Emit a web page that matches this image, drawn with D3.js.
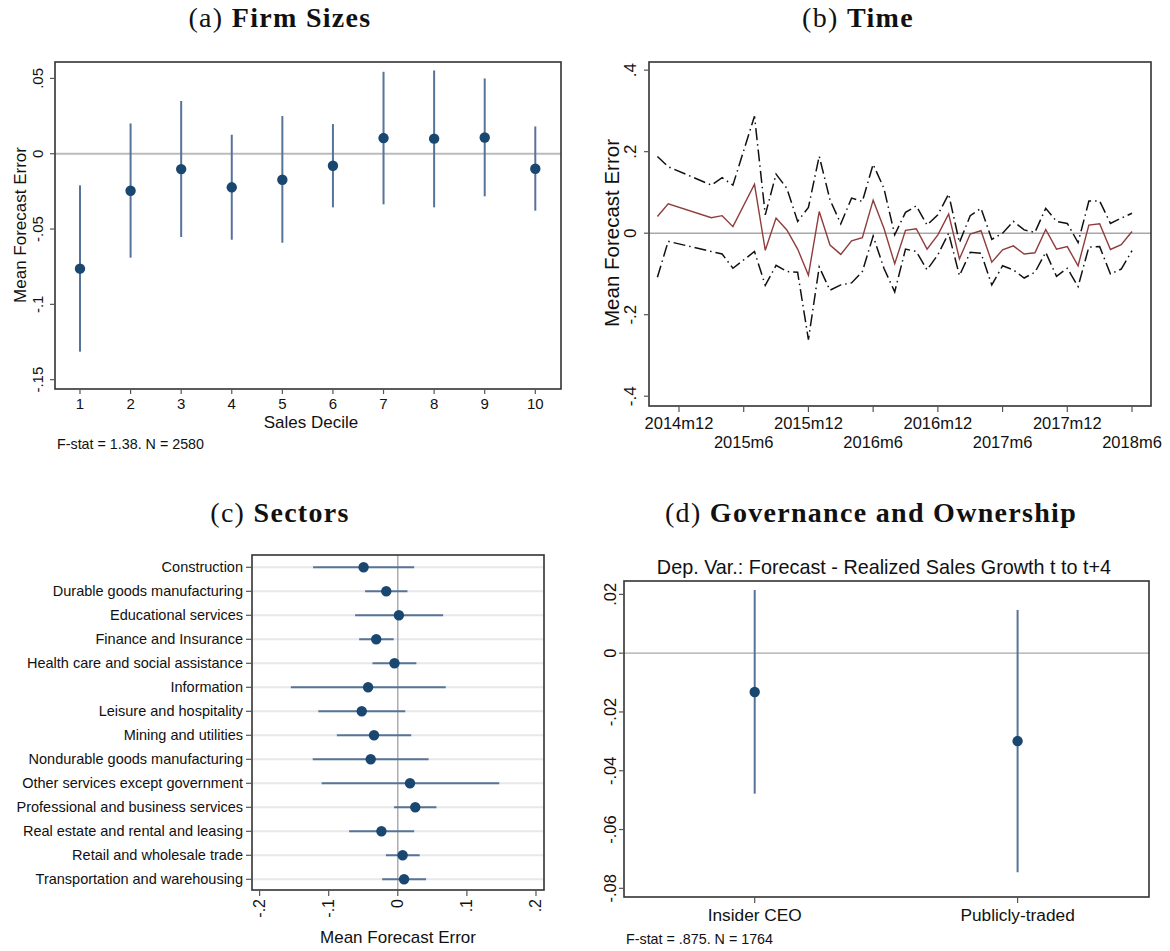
<!DOCTYPE html>
<html><head><meta charset="utf-8">
<script src="https://cdn.jsdelivr.net/npm/d3@7"></script>
<style>
body{margin:0;background:#fff;}
svg{display:block;}
text{font-family:"Liberation Sans",Arial,Helvetica,sans-serif;fill:#111;}
.ttl{font-family:"Liberation Serif","DejaVu Serif",serif;}
</style></head>
<body>
<svg id="c" width="1170" height="951"></svg>
<script>
// ---------------- DATA ----------------
// (a) Firm sizes
const deciles = [1,2,3,4,5,6,7,8,9,10];
const decileMean = [-0.0763,-0.0246,-0.0102,-0.0223,-0.0173,-0.0080,0.0104,0.0100,0.0108,-0.0100];
const decileLo   = [-0.1314,-0.0690,-0.0553,-0.0571,-0.0591,-0.0356,-0.0336,-0.0356,-0.0283,-0.0378];
const decileHi   = [-0.0210,0.0201,0.0350,0.0126,0.0250,0.0197,0.0544,0.0553,0.0500,0.0181];
const decileYTicks = [0.05,0,-0.05,-0.1,-0.15];
const decileYLabels = [".05","0","-.05","-.1","-.15"];

// (b) Time
const months = ["2014m10","2014m11","2015m3","2015m4","2015m5","2015m7","2015m8","2015m9","2015m10","2015m11",
  "2015m12","2016m1","2016m2","2016m3","2016m4","2016m5","2016m6","2016m7","2016m8","2016m9","2016m10","2016m11",
  "2016m12","2017m1","2017m2","2017m3","2017m4","2017m5","2017m6","2017m7","2017m8","2017m9","2017m10","2017m11",
  "2017m12","2018m1","2018m2","2018m3","2018m4","2018m5","2018m6"];
const timeMean = [0.041,0.072,0.038,0.043,0.016,0.120,-0.042,0.037,0.008,-0.039,
  -0.103,0.053,-0.029,-0.052,-0.019,-0.011,0.081,0.012,-0.075,0.007,0.011,-0.039,
  -0.004,0.047,-0.063,-0.002,0.006,-0.071,-0.041,-0.031,-0.051,-0.048,0.009,-0.039,
  -0.033,-0.080,0.020,0.023,-0.040,-0.028,0.004];
const timeHi = [0.188,0.163,0.118,0.136,0.118,0.287,0.045,0.145,0.110,0.029,
  0.063,0.189,0.082,0.023,0.086,0.078,0.169,0.110,-0.004,0.051,0.067,0.020,
  0.045,0.096,-0.023,0.043,0.061,-0.015,0.000,0.029,0.008,0.002,0.061,0.029,
  0.024,-0.023,0.079,0.079,0.024,0.037,0.049];
const timeLo = [-0.108,-0.020,-0.045,-0.051,-0.086,-0.045,-0.128,-0.079,-0.094,-0.096,
  -0.261,-0.083,-0.140,-0.127,-0.122,-0.094,-0.007,-0.086,-0.144,-0.039,-0.045,-0.090,
  -0.053,0.000,-0.104,-0.047,-0.049,-0.127,-0.080,-0.090,-0.110,-0.096,-0.047,-0.106,
  -0.086,-0.131,-0.034,-0.033,-0.100,-0.088,-0.043];
const timeXTicks = ["2014m12","2015m6","2015m12","2016m6","2016m12","2017m6","2017m12","2018m6"];
const timeYTicks = [0.4,0.2,0,-0.2,-0.4];
const timeYLabels = [".4",".2","0","-.2","-.4"];

// (c) Sectors
const sectors = ["Construction","Durable goods manufacturing","Educational services","Finance and Insurance",
  "Health care and social assistance","Information","Leisure and hospitality","Mining and utilities",
  "Nondurable goods manufacturing","Other services except government","Professional and business services",
  "Real estate and rental and leasing","Retail and wholesale trade","Transportation and warehousing"];
const sectorMean = [-0.0495,-0.0167,0.0016,-0.0312,-0.0048,-0.0430,-0.0522,-0.0344,-0.0392,0.0177,0.0253,-0.0237,0.0070,0.0091];
const sectorLo   = [-0.1226,-0.0473,-0.0618,-0.0559,-0.0366,-0.1548,-0.1150,-0.0882,-0.1231,-0.1102,-0.0054,-0.0704,-0.0172,-0.0226];
const sectorHi   = [0.0237,0.0140,0.0656,-0.0059,0.0269,0.0694,0.0108,0.0194,0.0446,0.1468,0.0559,0.0237,0.0317,0.0409];
const sectorXTicks = [-0.2,-0.1,0,0.1,0.2];
const sectorXLabels = ["-.2","-.1","0",".1",".2"];

// (d) Governance
const govCats = ["Insider CEO","Publicly-traded"];
const govMean = [-0.0132,-0.0299];
const govLo   = [-0.0478,-0.0745];
const govHi   = [0.0215,0.0147];
const govYTicks = [0.02,0,-0.02,-0.04,-0.06,-0.08];
const govYLabels = [".02","0","-.02","-.04","-.06","-.08"];

// ---------------- STYLE ----------------
const NAVY = "#1a476f", CI = "#56739a", ZERO = "#a8a8a8", FRAME = "#333", TICK = "#555";
const svg = d3.select("#c");

function title(x, y, pre, bold){
  const t = svg.append("text").attr("class","ttl").attr("x",x).attr("y",y)
    .attr("text-anchor","middle").attr("font-size",28).attr("letter-spacing",1.3);
  t.append("tspan").text(pre + " ");
  t.append("tspan").attr("font-weight","bold").text(bold);
}
function frame(x0,y0,x1,y1){
  svg.append("rect").attr("x",x0).attr("y",y0).attr("width",x1-x0).attr("height",y1-y0)
    .attr("fill","none").attr("stroke",FRAME).attr("stroke-width",1.6);
}
function yAxisVert(x0, y, ticks, labels, fs, labX){
  const g = svg.append("g");
  ticks.forEach((v,i)=>{
    g.append("line").attr("x1",x0-5).attr("x2",x0).attr("y1",y(v)).attr("y2",y(v)).attr("stroke",TICK).attr("stroke-width",1.2);
    g.append("text").attr("transform",`translate(${labX},${y(v)}) rotate(-90)`)
      .attr("text-anchor","middle").attr("font-size",fs).text(labels[i]);
  });
}

// ---------------- (a) ----------------
title(280, 27, "(a)", "Firm Sizes");
{
  const L=55,T=62,R=561,B=389;
  const x = d3.scaleLinear().domain([0.506,10.508]).range([L,R]);
  const y = d3.scaleLinear().domain([-0.1562,0.0609]).range([B,T]);
  svg.append("line").attr("x1",L).attr("x2",R).attr("y1",y(0)).attr("y2",y(0)).attr("stroke","#bbb").attr("stroke-width",2.2);
  deciles.forEach((d,i)=>{
    svg.append("line").attr("x1",x(d)).attr("x2",x(d)).attr("y1",y(decileLo[i])).attr("y2",y(decileHi[i]))
      .attr("stroke",CI).attr("stroke-width",2);
  });
  deciles.forEach((d,i)=>{
    svg.append("circle").attr("cx",x(d)).attr("cy",y(decileMean[i])).attr("r",5.2).attr("fill",NAVY);
  });
  frame(L,T,R,B);
  yAxisVert(L, y, decileYTicks, decileYLabels, 15, 43);
  deciles.forEach(d=>{
    svg.append("line").attr("x1",x(d)).attr("x2",x(d)).attr("y1",B).attr("y2",B+5).attr("stroke",TICK).attr("stroke-width",1.2);
    svg.append("text").attr("x",x(d)).attr("y",409).attr("text-anchor","middle").attr("font-size",15).text(d);
  });
  svg.append("text").attr("x",311).attr("y",428).attr("text-anchor","middle").attr("font-size",17).text("Sales Decile");
  svg.append("text").attr("transform",`translate(26,225) rotate(-90)`).attr("text-anchor","middle").attr("font-size",17).text("Mean Forecast Error");
  svg.append("text").attr("x",57).attr("y",449).attr("font-size",14.3).text("F-stat = 1.38. N = 2580");
}

// ---------------- (b) ----------------
title(858, 27, "(b)", "Time");
{
  const L=649,T=62,R=1151,B=406;
  const mi = s => { const p = s.split("m"); return (+p[0])*12 + (+p[1]-1); };
  const t0 = mi("2014m12"), t1 = mi("2018m6");
  const x = d3.scaleLinear().domain([t0-2.78, t1+1.76]).range([L,R]);
  const y = d3.scaleLinear().domain([-0.424,0.420]).range([B,T]);
  svg.append("line").attr("x1",L).attr("x2",R).attr("y1",y(0)).attr("y2",y(0)).attr("stroke",ZERO).attr("stroke-width",1.4);
  const idx = months.map(mi);
  const mk = arr => d3.line().x((d,i)=>x(idx[i])).y(d=>y(d))(arr);
  svg.append("path").attr("d",mk(timeHi)).attr("fill","none").attr("stroke","#111").attr("stroke-width",1.5).attr("stroke-dasharray","12,4,1.5,4");
  svg.append("path").attr("d",mk(timeLo)).attr("fill","none").attr("stroke","#111").attr("stroke-width",1.5).attr("stroke-dasharray","12,4,1.5,4");
  svg.append("path").attr("d",mk(timeMean)).attr("fill","none").attr("stroke","#903c3c").attr("stroke-width",1.4);
  frame(L,T,R,B);
  yAxisVert(L, y, timeYTicks, timeYLabels, 17, 636);
  timeXTicks.forEach((s,i)=>{
    const xv = x(mi(s));
    svg.append("line").attr("x1",xv).attr("x2",xv).attr("y1",B).attr("y2",B+6).attr("stroke",TICK).attr("stroke-width",1.2);
    svg.append("text").attr("x",xv).attr("y", i%2===0 ? 429 : 448).attr("text-anchor","middle").attr("font-size",16.5).text(s);
  });
  svg.append("text").attr("transform",`translate(619,233) rotate(-90)`).attr("text-anchor","middle").attr("font-size",20.5).text("Mean Forecast Error");
}

// ---------------- (c) ----------------
title(280, 522, "(c)", "Sectors");
{
  const L=252,T=555,R=544,B=890;
  const x = d3.scaleLinear().domain([-0.2110,0.2116]).range([L,R]);
  const y = d3.scalePoint().domain(sectors).range([567.3,879.3]);
  sectors.forEach(s=>{
    svg.append("line").attr("x1",L).attr("x2",R).attr("y1",y(s)).attr("y2",y(s)).attr("stroke","#e8e8e8").attr("stroke-width",2);
  });
  svg.append("line").attr("x1",x(0)).attr("x2",x(0)).attr("y1",T).attr("y2",B).attr("stroke",ZERO).attr("stroke-width",1.4);
  sectors.forEach((s,i)=>{
    svg.append("line").attr("x1",x(sectorLo[i])).attr("x2",x(sectorHi[i])).attr("y1",y(s)).attr("y2",y(s)).attr("stroke",CI).attr("stroke-width",2);
  });
  sectors.forEach((s,i)=>{
    svg.append("circle").attr("cx",x(sectorMean[i])).attr("cy",y(s)).attr("r",5.2).attr("fill",NAVY);
  });
  frame(L,T,R,B);
  sectors.forEach(s=>{
    svg.append("line").attr("x1",L-6).attr("x2",L).attr("y1",y(s)).attr("y2",y(s)).attr("stroke",TICK).attr("stroke-width",1.2);
    svg.append("text").attr("x",243).attr("y",y(s)+5).attr("text-anchor","end").attr("font-size",14.5).text(s);
  });
  sectorXTicks.forEach((v,i)=>{
    svg.append("line").attr("x1",x(v)).attr("x2",x(v)).attr("y1",B).attr("y2",B+6).attr("stroke",TICK).attr("stroke-width",1.2);
    svg.append("text").attr("transform",`translate(${x(v)+5.5},${899}) rotate(-90)`).attr("text-anchor","end").attr("font-size",16).text(sectorXLabels[i]);
  });
  svg.append("text").attr("x",398).attr("y",943).attr("text-anchor","middle").attr("font-size",17).text("Mean Forecast Error");
}

// ---------------- (d) ----------------
title(871, 522, "(d)", "Governance and Ownership");
{
  const L=624,T=581,R=1149,B=897;
  const x = d3.scalePoint().domain(govCats).range([754.7,1017.6]);
  const y = d3.scaleLinear().domain([-0.08295,0.02455]).range([B,T]);
  svg.append("text").attr("x",884).attr("y",574).attr("text-anchor","middle").attr("font-size",19.8).text("Dep. Var.: Forecast - Realized Sales Growth t to t+4");
  svg.append("line").attr("x1",L).attr("x2",R).attr("y1",y(0)).attr("y2",y(0)).attr("stroke",ZERO).attr("stroke-width",1.4);
  govCats.forEach((c,i)=>{
    svg.append("line").attr("x1",x(c)).attr("x2",x(c)).attr("y1",y(govLo[i])).attr("y2",y(govHi[i])).attr("stroke",CI).attr("stroke-width",2);
  });
  govCats.forEach((c,i)=>{
    svg.append("circle").attr("cx",x(c)).attr("cy",y(govMean[i])).attr("r",5.2).attr("fill",NAVY);
  });
  frame(L,T,R,B);
  yAxisVert(L, y, govYTicks, govYLabels, 16.5, 616);
  govCats.forEach(c=>{
    svg.append("line").attr("x1",x(c)).attr("x2",x(c)).attr("y1",B).attr("y2",B+6).attr("stroke",TICK).attr("stroke-width",1.2);
    svg.append("text").attr("x",x(c)).attr("y",921).attr("text-anchor","middle").attr("font-size",17.3).text(c);
  });
  svg.append("text").attr("x",626).attr("y",944).attr("font-size",14.3).text("F-stat = .875. N = 1764");
}
</script>
</body></html>
